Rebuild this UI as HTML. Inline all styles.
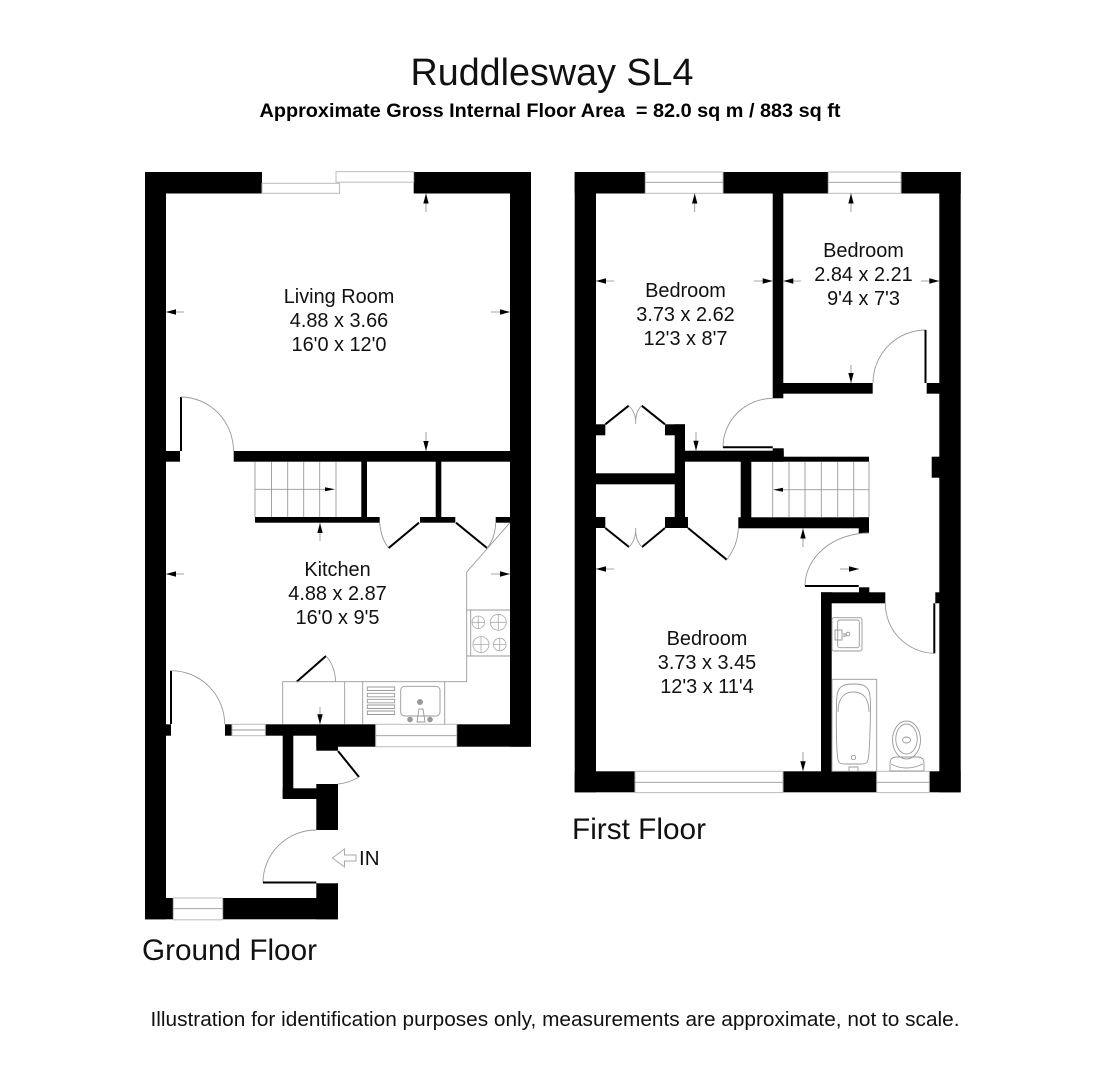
<!DOCTYPE html>
<html><head><meta charset="utf-8"><style>
html,body{margin:0;padding:0;background:#fff}
svg{display:block}
text{font-family:"Liberation Sans",sans-serif;fill:#111}
.l{font-size:19.9px;text-anchor:middle}
.g{fill:none;stroke:#999;stroke-width:.9}
.t{fill:none;stroke:#000;stroke-width:2}
.w{fill:#fff;stroke:#bbb;stroke-width:1}
.d{fill:none;stroke:#aaa;stroke-width:.8}
</style></head><body>
<svg width="1107" height="1080" viewBox="0 0 1107 1080" xmlns="http://www.w3.org/2000/svg">
<text x="552" y="85" font-size="38" text-anchor="middle" textLength="283" lengthAdjust="spacingAndGlyphs">Ruddlesway SL4</text>
<text x="550" y="117" font-size="19.5" font-weight="bold" text-anchor="middle" textLength="581" lengthAdjust="spacingAndGlyphs" style="fill:#000">Approximate Gross Internal Floor Area &#160;= 82.0 sq m / 883 sq ft</text>
<text x="142" y="960" font-size="29.5" textLength="175" lengthAdjust="spacingAndGlyphs">Ground Floor</text>
<text x="572" y="839" font-size="29.5" textLength="134" lengthAdjust="spacingAndGlyphs">First Floor</text>
<text x="555" y="1026" font-size="20" text-anchor="middle" textLength="809" lengthAdjust="spacingAndGlyphs">Illustration for identification purposes only, measurements are approximate, not to scale.</text>

<!-- ground floor walls -->
<g fill="#000">
<rect x="145" y="172" width="117" height="21.5"/>
<rect x="413.7" y="172" width="117.3" height="21.5"/>
<rect x="145" y="172" width="21" height="747.3"/>
<rect x="510" y="172" width="21" height="574.7"/>
<rect x="233.7" y="451" width="276.3" height="10.7"/>
<rect x="166" y="451" width="14" height="10.7"/>
<rect x="361.3" y="461" width="5.7" height="56"/>
<rect x="435.7" y="461" width="5.6" height="56"/>
<rect x="255" y="517" width="124.7" height="5.7"/>
<rect x="420" y="517" width="35.3" height="5.7"/>
<rect x="495.7" y="517" width="14.3" height="5.7"/>
<rect x="166" y="724.3" width="5" height="11.4"/>
<rect x="225" y="724.3" width="7" height="11.4"/>
<rect x="265.3" y="724.3" width="110.4" height="11.4"/>
<rect x="316.3" y="735" width="59.4" height="11.7"/>
<rect x="316.3" y="735" width="21.7" height="15.7"/>
<rect x="456.7" y="724.3" width="74.3" height="22.4"/>
<rect x="282.7" y="735" width="10.6" height="64"/>
<rect x="282.7" y="788.3" width="40" height="10.7"/>
<rect x="316.3" y="784" width="21.7" height="46"/>
<rect x="316.3" y="883.3" width="21.7" height="36"/>
<rect x="145" y="898" width="193" height="21.3"/>
</g>
<!-- ground windows -->
<rect class="w" x="262" y="183.3" width="77.5" height="10"/>
<rect class="w" x="336" y="171.7" width="77.7" height="10.5"/>
<rect x="173.3" y="898" width="49.4" height="21.8" fill="#fff" stroke="#bbb"/>
<line class="g" x1="173.3" y1="908.7" x2="222.7" y2="908.7" stroke="#bbb"/>
<rect class="w" x="232" y="724.3" width="33.3" height="11.4"/>
<line class="g" x1="232" y1="730" x2="265.3" y2="730"/>
<rect class="w" x="375.7" y="724.3" width="81" height="22.4"/>
<line class="g" x1="375.7" y1="735.7" x2="456.7" y2="735.7"/>
<!-- ground doors -->
<path class="t" d="M181 451V397"/><path class="g" d="M181 397A53 54 0 0 1 233.5 451"/>
<path class="g" d="M379.7 522.7Q381 539 388.7 548"/><path class="t" d="M388.7 548L419 522.7"/>
<path class="t" d="M456 522.7L487 548"/><path class="g" d="M487 548Q495 539 495.7 522.7"/>
<path class="t" d="M296.7 681.7L326 656"/><path class="g" d="M326 656Q335 666 335.7 681.7"/>
<path class="t" d="M171 724V670.7"/><path class="g" d="M171 670.7A53.7 53.6 0 0 1 224.7 724.3"/>
<path class="t" d="M338 751L359 777"/><path class="g" d="M359 777Q349 783 338 784"/>
<path class="g" d="M316.3 830A53.3 52.7 0 0 0 263 882.5"/><path class="t" d="M263 882.5H316.3"/>
<!-- stairs -->
<path class="g" d="M255 461.7V517M271.5 461.7V517M287.7 461.7V517M303.7 461.7V517M319.7 461.7V517M336 461.7V517M255 489.3H325"/>
<path d="M335 489.3L325 487.3V491.3Z"/>
<!-- kitchen -->
<path class="g" d="M510 522.7L466.7 572V681.7H282.7V724.3M344.7 681.7V724.3M362.7 681.7V724.3M444.7 681.7V724.3"/>
<path class="g" d="M466.7 610H510M466.7 656H510M470.7 610V656"/>
<g class="d"><circle cx="478.3" cy="622.3" r="6.3"/><circle cx="498.3" cy="622.3" r="8"/><circle cx="481" cy="644.5" r="8"/><circle cx="499.7" cy="644.5" r="6.3"/></g>
<path class="d" d="M478.3 616V628.6M472 622.3H484.6M498.3 614.3V630.3M490.3 622.3H506.3M481 636.5V652.5M473 644.5H489M499.7 638.2V650.8M493.4 644.5H506"/>
<path class="g" d="M367.3 687h27.4v3.5h-27.4zM367.3 693.3h27.4v3.5h-27.4zM367.3 699.3h27.4v3.5h-27.4zM367.3 705h27.4v3.5h-27.4zM367.3 711h27.4v3.5h-27.4z"/>
<rect class="g" x="400.7" y="686.3" width="39.3" height="29.7" rx="4"/>
<path class="g" d="M417 722L419 709H423L425 722Z"/>
<circle cx="420" cy="702" r="3" fill="#999"/><circle cx="410" cy="719.5" r="2.8" fill="#999"/><circle cx="430" cy="719.5" r="2.8" fill="#999"/>
<!-- IN -->
<path d="M332.5 858L344.5 849V855H356V861H344.5V867Z" fill="#fff" stroke="#aaa" stroke-width="1"/>
<text x="359" y="865" font-size="20.5">IN</text>
<text class="l" x="339" y="303">Living Room</text><text class="l" x="339" y="327">4.88 x 3.66</text><text class="l" x="339" y="351">16'0 x 12'0</text>
<text class="l" x="337.5" y="576">Kitchen</text><text class="l" x="337.5" y="600">4.88 x 2.87</text><text class="l" x="337.5" y="624">16'0 x 9'5</text>

<!-- first floor walls -->
<g fill="#000">
<rect x="574.7" y="172" width="70.6" height="21.5"/>
<rect x="723" y="172" width="105.3" height="21.5"/>
<rect x="901" y="172" width="59.7" height="21.5"/>
<rect x="574.7" y="172" width="21.3" height="620.3"/>
<rect x="939.3" y="172" width="21.4" height="620.3"/>
<rect x="772.7" y="193" width="10.6" height="205.3"/>
<rect x="783" y="383" width="89.7" height="10.7"/>
<rect x="926.7" y="383" width="12.8" height="10.7"/>
<rect x="685" y="450.7" width="98.7" height="11"/>
<rect x="772.7" y="448.3" width="11" height="13"/>
<rect x="740" y="456.7" width="129" height="5"/>
<rect x="674.7" y="424.3" width="10.3" height="103.7"/>
<rect x="665" y="424.3" width="20" height="11"/>
<rect x="596" y="424.3" width="9.3" height="11"/>
<rect x="596" y="473.3" width="79" height="11"/>
<rect x="596" y="517" width="9.3" height="11"/>
<rect x="665" y="517" width="23" height="11"/>
<rect x="740.7" y="461" width="10.6" height="67"/>
<rect x="738.3" y="517.3" width="130.7" height="11"/>
<rect x="858.7" y="517.3" width="10.3" height="16"/>
<rect x="859" y="587.3" width="10.3" height="6"/>
<rect x="821" y="592.3" width="64.3" height="11"/>
<rect x="821" y="592.3" width="10.7" height="180"/>
<rect x="935.3" y="592.3" width="4.5" height="11"/>
<rect x="931.7" y="456.7" width="8" height="21"/>
<rect x="574.7" y="771.3" width="60.3" height="21"/>
<rect x="783" y="771.3" width="93.7" height="21"/>
<rect x="929.3" y="771.3" width="31.4" height="21"/>
</g>
<!-- first windows -->
<g>
<rect class="w" x="645.3" y="172" width="77.7" height="21.3"/><line class="g" x1="645.3" y1="182.3" x2="723" y2="182.3"/>
<rect class="w" x="828.3" y="172" width="72.7" height="21.3"/><line class="g" x1="828.3" y1="182.3" x2="901" y2="182.3"/>
<rect class="w" x="635" y="771.3" width="148" height="21.3"/><line class="g" x1="635" y1="782.3" x2="783" y2="782.3"/>
<rect class="w" x="876.7" y="771.3" width="52.6" height="21.3"/><line class="g" x1="876.7" y1="782.3" x2="929.3" y2="782.3"/>
</g>
<!-- first doors -->
<path class="g" d="M873 383A53 53 0 0 1 926 330"/><path class="t" d="M925.5 330V383"/>
<path class="g" d="M772.7 398.3A50 49 0 0 0 723 447.3"/><path class="t" d="M723 447.3H772.7"/>
<path class="t" d="M605.3 424.3L628.7 405.7M641.7 405.7L665 424.3"/><path class="g" d="M628.7 405.7Q636 412 635.7 424Q635 412 641.7 405.7"/>
<path class="t" d="M605.3 528L629 547M665 528L642 547"/><path class="g" d="M629 547Q636 540 635.7 528Q635 540 642 547"/>
<path class="t" d="M688 528L726.7 559.7"/><path class="g" d="M726.7 559.7Q738 545 738.3 528"/>
<path class="g" d="M869 533A64 53 0 0 0 805 586"/><path class="t" d="M805 586H858.7"/>
<path class="g" d="M885.3 603A50 50 0 0 0 934.3 653.3"/><path class="t" d="M934.3 603.3V653.3"/>
<!-- first stairs -->
<path class="g" d="M772.7 461.7V517.3M789 461.7V517.3M805 461.7V517.3M821.3 461.7V517.3M837.7 461.7V517.3M853.7 461.7V517.3M869 461.7V517.3M869 489.7H783"/>
<path d="M773 489.7L783 487.7V491.7Z"/>
<!-- bathroom -->
<rect class="g" x="832" y="617.7" width="30" height="33.3" rx="2"/>
<rect class="g" x="837.7" y="620" width="21.6" height="27.7" rx="2"/>
<path class="g" d="M835 630H842V634H846V636H842V640H835Z"/><circle class="g" cx="848" cy="634" r="1.8"/>
<rect class="g" x="832" y="679.3" width="44.7" height="92"/>
<path class="g" d="M837 696C838 684 847 684 853.5 684C860 684 869 684 870 696C871 705 870 750 868 760C867 764 864 764 860 764H846C842 764 839 764 838 760C836 750 836 705 837 696Z"/>
<path class="g" d="M838 712C838 697 845 692 853.5 692C862 692 869 697 869 712"/>
<circle class="g" cx="853.5" cy="757.5" r="2.2"/><path class="g" d="M849 771V767H858V771"/>
<ellipse class="g" cx="906.5" cy="740" rx="14" ry="19"/>
<ellipse class="g" cx="906.5" cy="739" rx="10.7" ry="15"/>
<ellipse class="g" cx="906.5" cy="740" rx="4" ry="3"/>
<path class="g" d="M890 771V763Q890 757 897 757H917Q924 757 924 763V771Z"/>
<path class="g" d="M891 764Q906 772 923 764"/>
<text class="l" x="685.5" y="297">Bedroom</text><text class="l" x="685.5" y="321">3.73 x 2.62</text><text class="l" x="685.5" y="345">12'3 x 8'7</text>
<text class="l" x="863.5" y="257">Bedroom</text><text class="l" x="863.5" y="281">2.84 x 2.21</text><text class="l" x="863.5" y="305">9'4 x 7'3</text>
<text class="l" x="707" y="645">Bedroom</text><text class="l" x="707" y="669">3.73 x 3.45</text><text class="l" x="707" y="693">12'3 x 11'4</text>

<!-- dimension arrows -->
<g class="d" style="stroke:#888">
<path d="M426 193V212M426 432V451M166 312H184M491 312H510M166 574H184M491 574H510M320 523V541M320 707V724"/>
<path d="M694.7 193V212M851 193V212M596 281H614M754 281H772M783 281H801M921 281H939M851 365V383M696 432V451M803 528V547M596 569H614M840 569H859M803 752V771"/>
</g>
<g fill="#000">
<path d="M426 193.5l-2.7 10h5.4zM426 451l-2.7-10h5.4zM166 312l10-2.7v5.4zM510 312l-10-2.7v5.4zM166 574l10-2.7v5.4zM510 574l-10-2.7v5.4zM320 523l-2.7 10h5.4zM320 724.3l-2.7-10h5.4z"/>
<path d="M694.7 193.5l-2.7 10h5.4zM851 193.5l-2.7 10h5.4zM596 281l10-2.7v5.4zM772.7 281l-10-2.7v5.4zM783.3 281l10-2.7v5.4zM939.3 281l-10-2.7v5.4zM851 383l-2.7-10h5.4zM696 450.7l-2.7-10h5.4zM803 528.5l-2.7 10h5.4zM596 569l10-2.7v5.4zM859 569l-10-2.7v5.4zM803 771.3l-2.7-10h5.4z"/>
</g>
</svg>
</body></html>
